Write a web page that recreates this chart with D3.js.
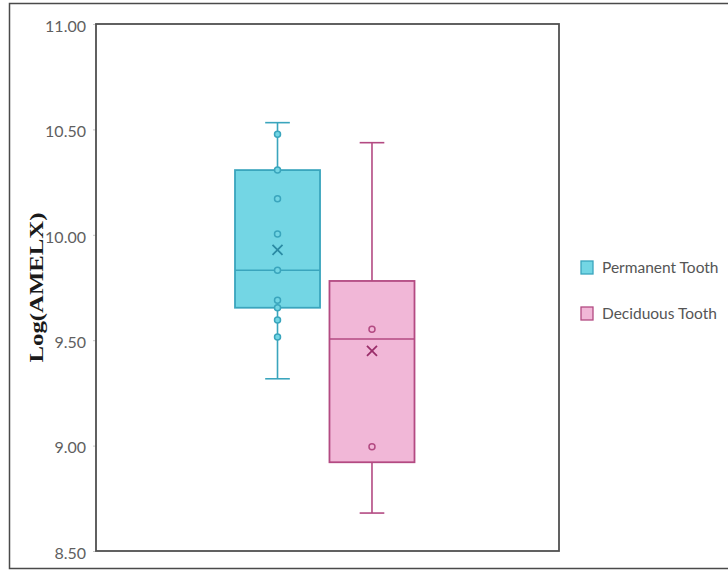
<!DOCTYPE html>
<html>
<head>
<meta charset="utf-8">
<script src="https://cdn.jsdelivr.net/npm/d3@7"></script>
<style>
  body { margin: 0; background: #fff; }
  svg { display: block; }
</style>
</head>
<body>
<div id="chart"></div>
<script>
// groups and summary stats
var groups = ["Permanent Tooth", "Deciduous Tooth"];
var whiskerLow  = [9.317, 8.680];
var q1          = [9.654, 8.921];
var medians     = [9.832, 9.506];
var q3          = [10.307, 9.781];
var whiskerHigh = [10.532, 10.437];
var means       = [9.928, 9.449];
var permanentPoints = [10.477, 10.307, 10.171, 10.004, 9.832, 9.689, 9.654, 9.596, 9.515];
var deciduousPoints = [9.552, 8.995];
var yTicks = [8.5, 9.0, 9.5, 10.0, 10.5, 11.0];

var fills   = ["#73d6e4", "#f1b7d7"];
var strokes = ["#3aa5bd", "#b34a82"];
var marks   = ["#2b8aa3", "#9a2e6a"];

var width = 728, height = 571;
var plot = { left: 96, right: 559, top: 24, bottom: 551 };

var svg = d3.select("#chart").append("svg")
    .attr("width", width)
    .attr("height", height);

// outer frame
svg.append("path")
    .attr("d", "M729,3.5 H9.5 V568.5 H729")
    .attr("fill", "none")
    .attr("stroke", "#4a4a4a")
    .attr("stroke-width", 1.5);

var y = d3.scaleLinear()
    .domain([8.5, 11])
    .range([plot.bottom, plot.top]);

var x = d3.scaleBand()
    .domain(groups)
    .range([235, 414.5])
    .paddingInner(0.1)
    .paddingOuter(0);

// y axis
var yAxis = svg.append("g")
    .attr("transform", `translate(${plot.left},0)`)
    .call(d3.axisLeft(y).tickValues(yTicks).tickFormat(d3.format(".2f")).tickSize(3).tickPadding(7));
yAxis.select(".domain").remove();
yAxis.selectAll(".tick line").attr("stroke", "#c8c8c8");
yAxis.selectAll(".tick text")
    .attr("fill", "#5f5f5f")
    .style("font-family", "Lato, 'Open Sans', sans-serif")
    .style("font-size", "16px")
    .attr("dy", "0.45em");

svg.append("text")
    .attr("transform", `translate(43,${(plot.top + plot.bottom) / 2}) rotate(-90)`)
    .attr("text-anchor", "middle")
    .attr("textLength", 150)
    .attr("lengthAdjust", "spacingAndGlyphs")
    .style("font-family", "'Liberation Serif', serif")
    .style("font-weight", "bold")
    .style("font-size", "18px")
    .attr("fill", "#1a1a1a")
    .text("Log(AMELX)");

// boxes
var boxData = groups.map(function (g, i) {
    return {
        name: g, i: i,
        lo: whiskerLow[i], q1: q1[i], med: medians[i], q3: q3[i], hi: whiskerHigh[i], mean: means[i],
        points: i === 0 ? permanentPoints : deciduousPoints
    };
});

var bw = x.bandwidth();
var capW = bw * 0.29;

var box = svg.selectAll(".box")
    .data(boxData)
    .join("g")
    .attr("class", "box");

// whiskers
box.append("line")
    .attr("x1", d => x(d.name) + bw / 2).attr("x2", d => x(d.name) + bw / 2)
    .attr("y1", d => y(d.hi)).attr("y2", d => y(d.lo))
    .attr("stroke", d => strokes[d.i]).attr("stroke-width", 1.6);
box.append("line")
    .attr("x1", d => x(d.name) + bw / 2 - capW / 2).attr("x2", d => x(d.name) + bw / 2 + capW / 2)
    .attr("y1", d => y(d.hi)).attr("y2", d => y(d.hi))
    .attr("stroke", d => strokes[d.i]).attr("stroke-width", 1.6);
box.append("line")
    .attr("x1", d => x(d.name) + bw / 2 - capW / 2).attr("x2", d => x(d.name) + bw / 2 + capW / 2)
    .attr("y1", d => y(d.lo)).attr("y2", d => y(d.lo))
    .attr("stroke", d => strokes[d.i]).attr("stroke-width", 1.6);

box.append("rect")
    .attr("x", d => x(d.name))
    .attr("y", d => y(d.q3))
    .attr("width", bw)
    .attr("height", d => y(d.q1) - y(d.q3))
    .attr("fill", d => fills[d.i])
    .attr("stroke", d => strokes[d.i])
    .attr("stroke-width", 1.8);

box.append("line")
    .attr("x1", d => x(d.name)).attr("x2", d => x(d.name) + bw)
    .attr("y1", d => y(d.med)).attr("y2", d => y(d.med))
    .attr("stroke", d => strokes[d.i]).attr("stroke-width", 1.6);

// points
box.each(function (d) {
    d3.select(this).selectAll("circle")
        .data(d.points)
        .join("circle")
        .attr("cx", x(d.name) + bw / 2)
        .attr("cy", v => y(v))
        .attr("r", 3)
        .attr("fill", fills[d.i])
        .attr("stroke", strokes[d.i])
        .attr("stroke-width", 1.5);
});

// mean marker
var m = 5;
box.append("path")
    .attr("d", function (d) {
        var cx = x(d.name) + bw / 2, cy = y(d.mean);
        return `M${cx - m},${cy - m}L${cx + m},${cy + m}M${cx + m},${cy - m}L${cx - m},${cy + m}`;
    })
    .attr("stroke", d => marks[d.i])
    .attr("stroke-width", 1.8)
    .attr("fill", "none");

// plot frame
svg.append("rect")
    .attr("x", plot.left)
    .attr("y", plot.top)
    .attr("width", plot.right - plot.left)
    .attr("height", plot.bottom - plot.top)
    .attr("fill", "none")
    .attr("stroke", "#505050")
    .attr("stroke-width", 1.8);

// legend
var legend = svg.selectAll(".legend")
    .data(groups)
    .join("g")
    .attr("class", "legend")
    .attr("transform", (d, i) => `translate(581,${261 + i * 46})`);
legend.append("rect")
    .attr("width", 12).attr("height", 13)
    .attr("fill", (d, i) => fills[i])
    .attr("stroke", (d, i) => strokes[i])
    .attr("stroke-width", 1.3);
legend.append("text")
    .attr("x", 21)
    .attr("y", 7)
    .attr("dy", "0.35em")
    .attr("fill", "#555")
    .style("font-family", "Lato, 'Open Sans', sans-serif")
    .style("font-size", "15.5px")
    .text(d => d);
</script>
</body>
</html>
